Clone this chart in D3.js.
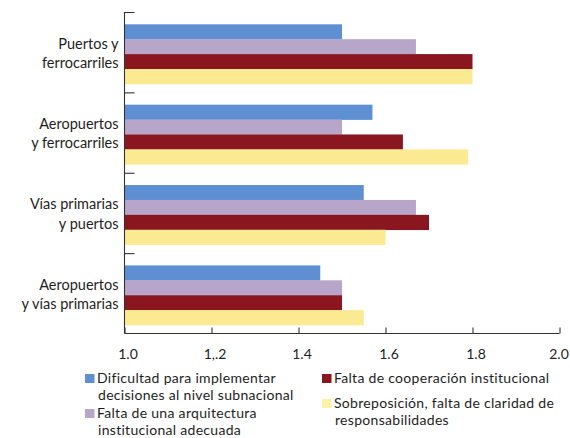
<!DOCTYPE html>
<html>
<head>
<meta charset="utf-8">
<script src="https://cdn.jsdelivr.net/npm/d3@7"></script>
<style>
  html, body { margin: 0; padding: 0; background: #fff; }
  svg { display: block; }
  text { font-family: Lato, "Open Sans", sans-serif; fill: #1e1e1e; }
</style>
</head>
<body>
<svg id="chart" width="570" height="438"></svg>
<script>
// Infrastructure pairs (each label drawn on two lines)
const categories = [
  ["Puertos y", "ferrocarriles"],
  ["Aeropuertos", "y ferrocarriles"],
  ["Vías primarias", "y puertos"],
  ["Aeropuertos", "y vías primarias"]
];

// Obstacle series, in bar order within each group
const seriesLabels = [
  ["Dificultad para implementar", "decisiones al nivel subnacional"],
  ["Falta de una arquitectura", "institucional adecuada"],
  ["Falta de cooperación institucional"],
  ["Sobreposición, falta de claridad de", "responsabilidades"]
];
const seriesColors = ["#5d8fd2", "#b7a5ca", "#8a1720", "#fcea93"];

// Values per series, one per category
const dificultad    = [1.50, 1.57, 1.55, 1.45];
const arquitectura  = [1.67, 1.50, 1.67, 1.50];
const cooperacion   = [1.80, 1.64, 1.70, 1.50];
const sobreposicion = [1.80, 1.79, 1.60, 1.55];
const seriesValues = [dificultad, arquitectura, cooperacion, sobreposicion];

// Axis ticks
const tickValues = [1.0, 1.2, 1.4, 1.6, 1.8, 2.0];
const tickLabels = ["1.0", "1,.2", "1.4", "1.6", "1.8", "2.0"];

const svg = d3.select("#chart");

const x = d3.scaleLinear().domain([1.0, 2.0]).range([124.5, 559.5]);
const catKeys = categories.map((c, i) => i);
const y = d3.scaleBand().domain(catKeys).range([12, 333.5]);
const ys = d3.scaleBand().domain(d3.range(seriesValues.length)).range([12.3, 71.9]);

// Bars
const rows = [];
catKeys.forEach(ci => {
  seriesValues.forEach((vals, si) => rows.push({ ci, si, v: vals[ci] }));
});
svg.append("g").selectAll("rect").data(rows).join("rect")
  .attr("x", x(1.0))
  .attr("y", d => y(d.ci) + ys(d.si))
  .attr("width", d => x(d.v) - x(1.0))
  .attr("height", ys.bandwidth() + 0.3)
  .attr("fill", d => seriesColors[d.si]);

// X axis (ticks point up)
const xAxis = d3.axisBottom(x)
  .tickValues(tickValues)
  .tickSize(-6)
  .tickPadding(0)
  .tickFormat((d, i) => tickLabels[i]);
const gx = svg.append("g").attr("transform", `translate(0,${y.range()[1]})`).call(xAxis);
gx.select(".domain").attr("d", `M${x(1.0)},0H${x(2.0)}`).attr("stroke", "#333").attr("stroke-width", 1.1);
gx.selectAll(".tick line").attr("stroke", "#333").attr("stroke-width", 1.1);
gx.selectAll(".tick text")
  .attr("y", 0).attr("dy", 0)
  .attr("transform", (d, i) => `translate(${i === tickValues.length - 1 ? -1 : 3},25.5)`)
  .style("font-family", "Lato, sans-serif")
  .style("font-size", "14px")
  .attr("fill", "#1e1e1e");

// Y axis: vertical line with group separator ticks pointing right
const gy = svg.append("g");
gy.append("line")
  .attr("x1", x(1.0)).attr("x2", x(1.0))
  .attr("y1", y.range()[0]).attr("y2", y.range()[1])
  .attr("stroke", "#333").attr("stroke-width", 1.1);
gy.selectAll("line.sep").data(catKeys).join("line")
  .attr("class", "sep")
  .attr("x1", x(1.0)).attr("x2", x(1.0) + 10)
  .attr("y1", d => y(d) + 0.5).attr("y2", d => y(d) + 0.5)
  .attr("stroke", "#333").attr("stroke-width", 1.1);

// Category labels
const catG = svg.append("g").selectAll("text").data(catKeys).join("text")
  .attr("text-anchor", "end")
  .style("font-size", "14.5px");
catG.each(function (ci) {
  const mid = y(ci) + ys.range()[0] + (ys.range()[1] - ys.range()[0]) / 2;
  const t = d3.select(this);
  categories[ci].forEach((line, li) => {
    t.append("tspan").attr("x", 118.5).attr("y", mid - 5.5 + li * 19.5).text(line);
  });
});

// Legend: two columns
const legendPos = [
  { x: 85, y: 383 },
  { x: 85, y: 418 },
  { x: 322, y: 383 },
  { x: 322, y: 408 }
];
const leg = svg.append("g").selectAll("g").data(seriesLabels).join("g")
  .attr("transform", (d, i) => `translate(${legendPos[i].x},${legendPos[i].y})`);
leg.append("rect")
  .attr("x", 0).attr("y", -9).attr("width", 9.5).attr("height", 9)
  .attr("fill", (d, i) => i === 3 ? "#fff2a6" : seriesColors[i]);
leg.append("text")
  .style("font-size", "14px")
  .style("letter-spacing", "0.3px")
  .each(function (lines) {
    const t = d3.select(this);
    lines.forEach((line, li) => {
      t.append("tspan").attr("x", li === 0 ? 12 : 13).attr("y", li * 16.5).text(line);
    });
  });
</script>
</body>
</html>
